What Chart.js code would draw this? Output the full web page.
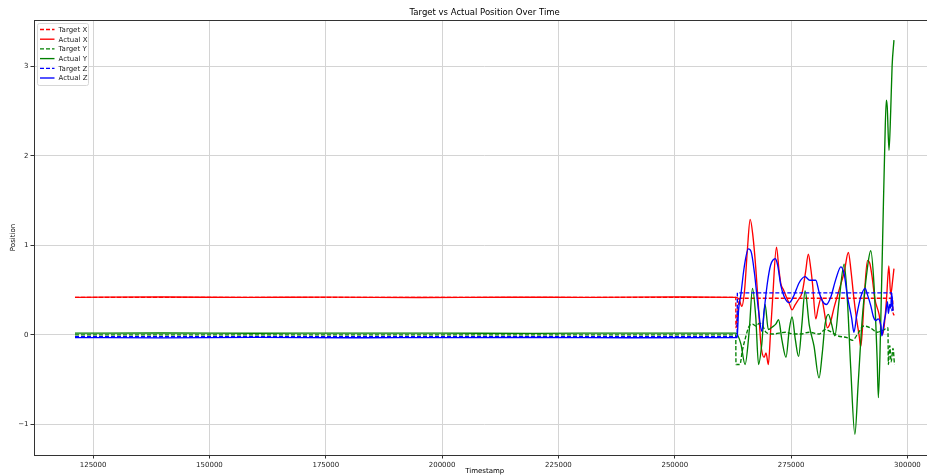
<!DOCTYPE html>
<html><head><meta charset="utf-8">
<script src="https://cdn.jsdelivr.net/npm/chart.js@4/dist/chart.umd.min.js"></script>
<style>html,body{margin:0;padding:0;background:#fff}#wrap{width:927px;height:475px;overflow:hidden;position:relative}canvas{display:block}</style>
</head><body><div id="wrap"><canvas id="c" width="936" height="475"></canvas></div>
<script>
// ---- data ----
const seriesNames = ["Target X","Actual X","Target Y","Actual Y","Target Z","Actual Z"];
const xTickValues = [125000,150000,175000,200000,225000,250000,275000,300000];
const yTickValues = [-1,0,1,2,3];

const targetX_t = [121100,263100,263150,263600,264000,296800,296900,297200];
const targetX_v = [0.42,0.42,0.08,0.30,0.41,0.41,0.25,0.22];

const actualX_t = [121100,140000,158000,176000,195000,214000,232000,250000,263100,263800,264400,265000,265600,266200,266800,267400,268000,268500,269200,269600,270100,270600,271000,271850,272400,272800,273400,274000,274600,275200,275800,276400,277400,278100,278700,279200,279600,280300,280800,281500,282000,282800,283500,284200,285300,286400,287300,287900,288400,289000,289600,289960,290300,290700,291400,291900,292400,293000,293900,294600,295000,295500,296000,296400,296800,297100];
const actualX_v = [0.42,0.423,0.419,0.422,0.418,0.421,0.42,0.423,0.42,0.40,0.32,0.50,0.95,1.29,1.10,0.75,0.30,-0.10,-0.25,-0.20,-0.33,0.05,0.38,0.98,0.72,0.57,0.50,0.42,0.35,0.28,0.33,0.38,0.48,0.70,0.90,0.75,0.57,0.18,0.30,0.42,0.30,0.08,0.15,0.30,0.50,0.70,0.92,0.70,0.45,0.20,0.0,-0.13,0.05,0.40,0.83,0.80,0.65,0.40,0.23,0.0,0.10,0.40,0.77,0.45,0.60,0.74];

const targetY_t = [121100,263100,263150,264000,264500,265100,266000,266700,267400,268200,268900,269600,271000,273800,275500,277000,278900,281000,282300,283700,285000,287000,288200,289300,290600,292000,293500,295000,295800,295900,296200,296500,296900,297200];
const targetY_v = [0.0,0.0,-0.33,-0.33,-0.18,-0.05,0.10,0.12,0.10,0.13,0.10,0.03,0.01,0.03,0.01,0.01,0.03,0.01,0.06,0.03,-0.01,-0.03,-0.06,0.01,0.10,0.08,0.03,0.06,0.08,-0.33,-0.12,-0.30,-0.15,-0.33];

const actualY_t = [121100,140000,160000,180000,200000,220000,240000,263100,264200,265100,266000,266700,267400,268000,268700,269400,270100,271000,271700,272300,273000,273900,274600,275200,275900,276600,277300,278000,278900,279900,281000,281700,282300,283000,283700,284400,285300,286400,287100,287800,288700,289400,290300,291400,292100,292800,293500,293750,294250,294750,295100,295450,295650,296036,296400,296700,297100];
const actualY_v = [0.02,0.022,0.019,0.021,0.02,0.018,0.021,0.02,-0.10,-0.33,0.05,0.52,0.20,-0.33,-0.10,0.34,0.06,0.09,0.12,0.17,-0.05,-0.25,0.06,0.20,-0.05,-0.24,0.11,0.49,0.11,-0.12,-0.48,-0.20,0.12,0.23,0.12,-0.01,0.38,0.79,0.38,-0.36,-1.11,-0.55,0.19,0.75,0.94,0.57,-0.29,-0.70,0.12,1.27,2.05,2.62,2.55,2.06,2.50,3.00,3.29];

const targetZ_t = [121100,263400,263450,296600,296650,297000];
const targetZ_v = [-0.02,-0.02,0.47,0.47,0.27,0.30];

const actualZ_t = [121100,140000,160000,180000,200000,220000,240000,263400,263500,263700,264200,264900,265800,266400,267100,268000,268700,269200,269900,270600,271600,272100,272800,273500,274600,275600,276700,278000,279000,280300,281000,281700,282600,283500,284600,285700,286400,287100,288000,288500,289100,290000,290900,291400,292100,292700,293200,293700,294300,294500,295000,295300,295700,295900,296200,296400,296600,296900];
const actualZ_v = [-0.03,-0.032,-0.028,-0.031,-0.03,-0.029,-0.031,-0.03,0.05,0.27,0.45,0.75,0.96,0.93,0.70,0.27,0.04,0.27,0.58,0.78,0.85,0.78,0.55,0.43,0.36,0.44,0.58,0.65,0.61,0.61,0.48,0.38,0.34,0.42,0.62,0.76,0.68,0.43,0.19,0.03,0.22,0.43,0.52,0.45,0.33,0.20,0.16,0.18,0.10,-0.01,0.15,0.23,0.37,0.24,0.34,0.30,0.47,0.27];

// ---- build ----
const FONT = "'DejaVu Sans', sans-serif";
function pts(t, v){ return t.map((x,i)=>({x:x, y:v[i]})); }
const seriesData = [pts(targetX_t,targetX_v),pts(actualX_t,actualX_v),pts(targetY_t,targetY_v),pts(actualY_t,actualY_v),pts(targetZ_t,targetZ_v),pts(actualZ_t,actualZ_v)];
const colors = ['#ff0000','#ff0000','#008000','#008000','#0000ff','#0000ff'];
const dashed = [true,false,true,false,true,false];
const DASH = [4,2];

const datasets = seriesNames.map((n,i)=>({
  label:n, data:seriesData[i], borderColor:colors[i], backgroundColor:colors[i],
  borderWidth:1.35, borderDash: dashed[i]?DASH:[], pointRadius:0, tension:0.25, fill:false,
  cubicInterpolationMode:'monotone',
  order: 5-i
}));

const mplPlugin = {
  id:'mpl',
  afterDatasetsDraw(chart){
    const {ctx, chartArea:a} = chart;
    ctx.save();
    ctx.strokeStyle = '#333'; ctx.lineWidth = 1;
    ctx.strokeRect(Math.round(a.left)+0.5, Math.round(a.top)+0.5, Math.round(a.right-a.left), Math.round(a.bottom-a.top));
    const lx = a.left+3.5, ly = a.top+3.5, lw = 51, lh = 62;
    ctx.fillStyle = 'rgba(255,255,255,0.85)';
    ctx.strokeStyle = '#d6d6d6'; ctx.lineWidth = 1;
    ctx.beginPath();
    if (ctx.roundRect) ctx.roundRect(lx, ly, lw, lh, 2); else ctx.rect(lx,ly,lw,lh);
    ctx.fill(); ctx.stroke();
    ctx.font = '7px ' + FONT;
    ctx.textBaseline = 'middle'; ctx.textAlign = 'left';
    for (let i=0;i<seriesNames.length;i++){
      const y = ly + 6 + i*9.7;
      ctx.strokeStyle = colors[i]; ctx.lineWidth = 1.35;
      ctx.setLineDash(dashed[i]?DASH:[]);
      ctx.beginPath(); ctx.moveTo(lx+2.5, y); ctx.lineTo(lx+17, y); ctx.stroke();
      ctx.setLineDash([]);
      ctx.fillStyle = '#222';
      ctx.fillText(seriesNames[i], lx+21, y+0.5);
    }
    const cx = (a.left + a.right)/2;
    ctx.fillStyle = '#000';
    ctx.textAlign = 'center';
    ctx.font = '8.5px ' + FONT;
    ctx.fillText('Target vs Actual Position Over Time', cx, 13);
    ctx.font = '7px ' + FONT;
    ctx.fillText('Timestamp', cx, 471);
    ctx.save();
    ctx.translate(13, (a.top+a.bottom)/2);
    ctx.rotate(-Math.PI/2);
    ctx.fillText('Position', 0, 0);
    ctx.restore();
    ctx.restore();
  }
};

const axisCommon = {
  grid:{color:'#d4d4d4', lineWidth:1, tickColor:'#333', tickLength:3.5, drawTicks:true},
  border:{display:false},
  ticks:{color:'#222', font:{family:FONT, size:7}, padding:2, autoSkip:false, maxRotation:0}
};

new Chart(document.getElementById('c'), {
  type:'line',
  data:{datasets},
  options:{
    responsive:false, animation:false, devicePixelRatio:1,
    layout:{padding:{top:20, right:0.6, left:0, bottom:0}},
    plugins:{legend:{display:false}, title:{display:false}, tooltip:{enabled:false}},
    scales:{
      x:{type:'linear', min:112295, max:306005, ...axisCommon,
        ticks:{...axisCommon.ticks, callback:v=>String(v)},
        afterBuildTicks:s=>{ s.ticks = xTickValues.map(v=>({value:v})); },
        afterFit:s=>{ s.height = 20; }},
      y:{type:'linear', min:-1.34, max:3.515, ...axisCommon,
        ticks:{...axisCommon.ticks, callback:v=> v<0 ? '\u2212'+Math.abs(v) : String(v)},
        afterBuildTicks:s=>{ s.ticks = yTickValues.map(v=>({value:v})); },
        afterFit:s=>{ s.width = 34; }}
    }
  },
  plugins:[mplPlugin]
});
</script>
</body></html>
